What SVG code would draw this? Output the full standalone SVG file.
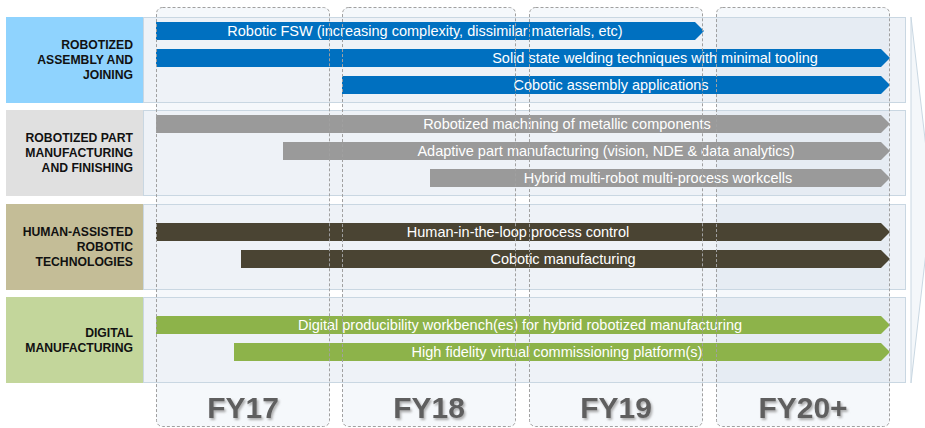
<svg xmlns="http://www.w3.org/2000/svg" width="925" height="428" viewBox="0 0 925 428">
<defs>
<style>
.lbl{font-family:"Liberation Sans",Arial,sans-serif;font-weight:bold;font-size:12.2px;fill:#111;text-anchor:end}
.bt{font-family:"Liberation Sans",Arial,sans-serif;font-size:14.5px;fill:#fff;text-anchor:middle}
.yr{font-family:"Liberation Sans",Arial,sans-serif;font-weight:bold;font-size:30px;fill:#5e5e5e;text-anchor:middle;filter:url(#sh)}
.panel{fill:#eef2f7;stroke:#c9d7e2;stroke-width:1}
.tint{fill:#dde5f0;fill-opacity:0.5}
.colbg{fill:#f5f8fb}
.col{fill:none;stroke:#a0a0a0;stroke-width:1;stroke-dasharray:3,2}
.blue{fill:#0070c0}.gray{fill:#9a9a9a}.olive{fill:#4a4433}.green{fill:#8db34a}
</style>
<filter id="sh" x="-20%" y="-30%" width="140%" height="160%">
<feDropShadow dx="1.5" dy="2" stdDeviation="1.3" flood-color="#999" flood-opacity="0.8"/>
</filter>
</defs>
<rect width="925" height="428" fill="#fff"/>
<rect class="colbg" x="156.5" y="7.5" width="173" height="419" rx="6"/>
<rect class="colbg" x="342.5" y="7.5" width="173" height="419" rx="6"/>
<rect class="colbg" x="529.5" y="7.5" width="173" height="419" rx="6"/>
<rect class="colbg" x="716.5" y="7.5" width="173" height="419" rx="6"/>
<polygon points="911,17 932,200 911,383" fill="#f4f7fa" stroke="#c9d7e2"/>
<g id="row1">
<rect class="panel" x="143.5" y="17.5" width="762" height="85"/>
<rect class="tint" x="716" y="18" width="173" height="84"/>
<rect x="6" y="17" width="137" height="86" fill="#8fd3fe"/>
<text class="lbl" x="133" y="49">ROBOTIZED</text>
<text class="lbl" x="133" y="64">ASSEMBLY AND</text>
<text class="lbl" x="133" y="79">JOINING</text>
</g>
<g id="row2">
<rect class="panel" x="143.5" y="110.5" width="762" height="85"/>
<rect class="tint" x="716" y="111" width="173" height="84"/>
<rect x="6" y="110" width="137" height="86" fill="#e0e0e0"/>
<text class="lbl" x="133" y="142">ROBOTIZED PART</text>
<text class="lbl" x="133" y="157">MANUFACTURING</text>
<text class="lbl" x="133" y="172">AND FINISHING</text>
</g>
<g id="row3">
<rect class="panel" x="143.5" y="204.5" width="762" height="85"/>
<rect class="tint" x="716" y="205" width="173" height="84"/>
<rect x="6" y="204" width="137" height="86" fill="#c4bd97"/>
<text class="lbl" x="133" y="236">HUMAN-ASSISTED</text>
<text class="lbl" x="133" y="251">ROBOTIC</text>
<text class="lbl" x="133" y="266">TECHNOLOGIES</text>
</g>
<g id="row4">
<rect class="panel" x="143.5" y="297.5" width="762" height="85"/>
<rect class="tint" x="716" y="298" width="173" height="84"/>
<rect x="6" y="297" width="137" height="86" fill="#c3d69b"/>
<text class="lbl" x="133" y="337">DIGITAL</text>
<text class="lbl" x="133" y="352">MANUFACTURING</text>
</g>
<g id="bars">
<g id="b1"><polygon class="blue" points="156,22 695,22 704,31 695,40 156,40"/><text class="bt" x="425" y="36">Robotic FSW (increasing complexity, dissimilar materials, etc)</text></g>
<g id="b2"><polygon class="blue" points="156,49 881,49 890,58 881,67 156,67"/><text class="bt" x="655" y="63">Solid state welding techniques with minimal tooling</text></g>
<g id="b3"><polygon class="blue" points="342,76 881,76 890,85 881,94 342,94"/><text class="bt" x="611" y="90">Cobotic assembly applications</text></g>
<g id="b4"><polygon class="gray" points="156,115 881,115 890,124 881,133 156,133"/><text class="bt" x="567" y="129">Robotized machining of metallic components</text></g>
<g id="b5"><polygon class="gray" points="283,142 881,142 890,151 881,160 283,160"/><text class="bt" x="606" y="156">Adaptive part manufacturing (vision, NDE &amp; data analytics)</text></g>
<g id="b6"><polygon class="gray" points="430,169 881,169 890,178 881,187 430,187"/><text class="bt" x="658" y="183">Hybrid multi-robot multi-process workcells</text></g>
<g id="b7"><polygon class="olive" points="156,223 881,223 890,232 881,241 156,241"/><text class="bt" x="518" y="237">Human-in-the-loop process control</text></g>
<g id="b8"><polygon class="olive" points="241,250 881,250 890,259 881,268 241,268"/><text class="bt" x="563" y="264">Cobotic manufacturing</text></g>
<g id="b9"><polygon class="green" points="156,316 881,316 890,325 881,334 156,334"/><text class="bt" x="520" y="330">Digital producibility workbench(es) for hybrid robotized manufacturing</text></g>
<g id="b10"><polygon class="green" points="234,343 881,343 890,352 881,361 234,361"/><text class="bt" x="557" y="357">High fidelity virtual commissioning platform(s)</text></g>
</g>
<g id="fy17"><rect class="col" x="156.5" y="7.5" width="173" height="419" rx="6"/><text class="yr" x="243" y="418">FY17</text></g>
<g id="fy18"><rect class="col" x="342.5" y="7.5" width="173" height="419" rx="6"/><text class="yr" x="429" y="418">FY18</text></g>
<g id="fy19"><rect class="col" x="529.5" y="7.5" width="173" height="419" rx="6"/><text class="yr" x="616" y="418">FY19</text></g>
<g id="fy20"><rect class="col" x="716.5" y="7.5" width="173" height="419" rx="6"/><text class="yr" x="803" y="418">FY20+</text></g>
</svg>
